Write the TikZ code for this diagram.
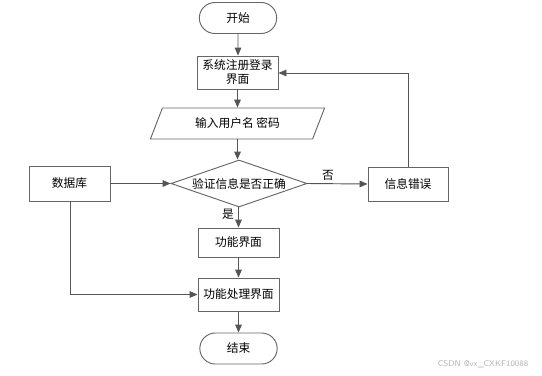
\documentclass[tikz,border=0pt]{standalone}
\usepackage{fontspec}
\newfontfamily\cjk{Noto Sans CJK SC}
\usetikzlibrary{shapes.geometric,shapes.misc,arrows.meta}
\definecolor{edge}{HTML}{555555}
\definecolor{bord}{HTML}{666666}
\tikzset{
  base/.style={draw=bord, line width=0.7pt, font=\cjk\fontsize{8.8}{10.5}\selectfont, align=center, inner sep=1pt},
  box/.style={base, rectangle, minimum width=81*0.75pt, minimum height=33*0.75pt},
  term/.style={base, rounded rectangle, minimum width=80*0.75pt, minimum height=31*0.75pt},
  io/.style={base, trapezium, trapezium left angle=63, trapezium right angle=117, minimum width=175*0.75pt, minimum height=31*0.75pt, trapezium stretches=true},
  decision/.style={base, diamond, minimum width=135*0.75pt, minimum height=47*0.75pt, aspect=2.9},
  conn/.style={draw=edge, line width=0.7pt, -{Triangle[length=6pt,width=5pt]}},
  lbl/.style={font=\cjk\fontsize{8.8}{10.5}\selectfont, inner sep=0pt}
}
\begin{document}
\begin{tikzpicture}[x=0.75pt,y=-0.75pt]
\useasboundingbox (0,0) rectangle (542,375);
\node[term] (start) at (238,18) {开始};
\node[box] (reg) at (237.5,72.5) {系统注册登录\\界面};
\node[io] (input) at (237.5,123.5) {输入用户名 密码};
\node[decision] (check) at (239,183.5) {验证信息是否正确};
\node[box, minimum height=35*0.75pt] (db) at (69.5,183.5) {数据库};
\node[box, minimum width=80*0.75pt, minimum height=34*0.75pt] (err) at (408,184) {信息错误};
\node[box, minimum height=29*0.75pt] (func) at (238.5,242.5) {功能界面};
\node[box] (proc) at (238.5,294.5) {功能处理界面};
\node[term] (end) at (238.5,348.5) {结束};
\coordinate (fb) at (408,73);
\coordinate (dbc) at (70,294.5);
\draw[conn] (start) -- (reg.north -| start);
\draw[conn] (reg.south) -- (input.north -| reg.south);
\draw[conn] (input.south) -- (check.north -| input.south);
\draw[conn] (check.south -| func.north) -- (func.north);
\draw[conn] (func) -- (proc);
\draw[conn] (proc) -- (end);
\draw[conn] (db) -- (check.west);
\draw[conn] (check.east) -- (err.west);
\draw[conn] (err.north) -- (fb) -- (reg.east |- fb);
\draw[conn] (db.south -| dbc) -- (dbc) -- (proc.west);
\node[lbl] (no) at (328,175) {否};
\node[lbl] (yes) at (228,214) {是};
\node[font=\sffamily\fontsize{6.2}{7}\selectfont, text=black!30, inner sep=0pt] (wm) at (483,364) {CSDN @vx\_CXKF10088};
\end{tikzpicture}
\end{document}
